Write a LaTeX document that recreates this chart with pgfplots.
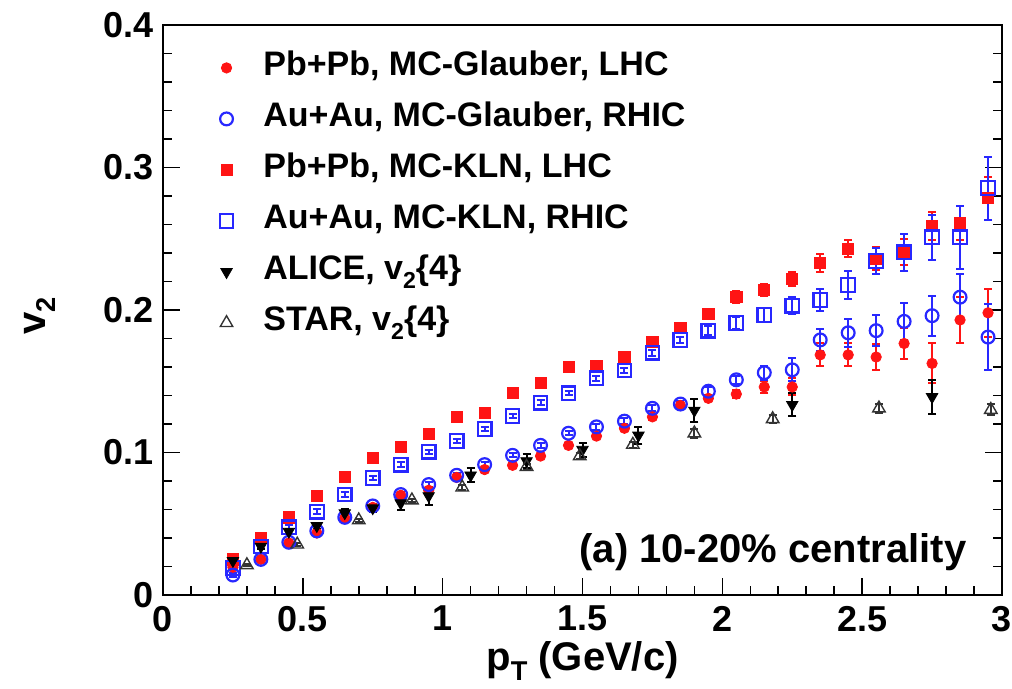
\documentclass[border=0pt]{standalone}
\usepackage{fontspec}
\setmainfont{Liberation Sans}
\usepackage{pgfplots}
\pgfplotsset{compat=1.18}
\definecolor{rred}{RGB}{255,20,20}
\definecolor{rblue}{RGB}{40,40,255}
\newcommand\sub[1]{\raisebox{-0.5ex}{\scalebox{0.68}{#1}}}

\pgfplotstableread{
x e y
0.25 0 0.0195
0.35 0 0.025
0.45 0 0.0365
0.55 0 0.0435
0.65 0 0.054
0.75 0 0.0615
0.85 0 0.070
0.95 0 0.0735
1.05 0 0.0825
1.15 0 0.088
1.25 0 0.091
1.35 0 0.0975
1.45 0 0.105
1.55 0 0.1115
1.65 0 0.117
1.75 0.002 0.125
1.85 0.002 0.133
1.95 0.002 0.138
2.05 0.003 0.141
2.15 0.004 0.146
2.25 0.006 0.146
2.35 0.008 0.1685
2.45 0.008 0.1685
2.55 0.009 0.167
2.65 0.011 0.1765
2.75 0.014 0.1625
2.85 0.016 0.193
2.95 0.017 0.198
}\pbglau

\pgfplotstableread{
x e y
0.25 0.0015 0.014
0.35 0.0015 0.025
0.45 0.0015 0.037
0.55 0.0015 0.045
0.65 0.0015 0.0545
0.75 0.0015 0.0625
0.85 0.0015 0.0705
0.95 0.0015 0.0775
1.05 0.0015 0.084
1.15 0.0015 0.0915
1.25 0.0015 0.098
1.35 0.0015 0.105
1.45 0.0015 0.1135
1.55 0.002 0.118
1.65 0.002 0.122
1.75 0.002 0.131
1.85 0.002 0.134
1.95 0.003 0.143
2.05 0.003 0.151
2.15 0.005 0.156
2.25 0.008 0.158
2.35 0.008 0.179
2.45 0.010 0.184
2.55 0.011 0.1855
2.65 0.013 0.192
2.75 0.014 0.196
2.85 0.016 0.209
2.95 0.023 0.181
}\auglau

\pgfplotstableread{
x e y
0.25 0 0.025
0.35 0 0.040
0.45 0 0.0545
0.55 0 0.0695
0.65 0 0.083
0.75 0 0.096
0.85 0 0.104
0.95 0 0.113
1.05 0 0.125
1.15 0 0.128
1.25 0 0.142
1.35 0 0.149
1.45 0 0.160
1.55 0 0.161
1.65 0 0.167
1.75 0.002 0.1775
1.85 0.002 0.1875
1.95 0.003 0.197
2.05 0.004 0.209
2.15 0.004 0.214
2.25 0.005 0.222
2.35 0.006 0.233
2.45 0.006 0.243
2.55 0.008 0.236
2.65 0.009 0.2405
2.75 0.010 0.259
2.85 0.012 0.261
2.95 0.015 0.2785
}\pbkln

\pgfplotstableread{
x e y
0.25 0.0015 0.019
0.35 0.0015 0.034
0.45 0.0015 0.0475
0.55 0.0015 0.0585
0.65 0.0015 0.0705
0.75 0.0015 0.082
0.85 0.0015 0.0915
0.95 0.0015 0.1005
1.05 0.0015 0.108
1.15 0.0015 0.1165
1.25 0.0015 0.1255
1.35 0.0015 0.135
1.45 0.0015 0.1415
1.55 0.0015 0.152
1.65 0.002 0.1575
1.75 0.002 0.170
1.85 0.002 0.179
1.95 0.003 0.1855
2.05 0.004 0.191
2.15 0.005 0.1965
2.25 0.006 0.203
2.35 0.008 0.207
2.45 0.010 0.2175
2.55 0.009 0.2345
2.65 0.013 0.2405
2.75 0.016 0.251
2.85 0.022 0.251
2.95 0.022 0.2855
}\aukln

\pgfplotstableread{
x e y
0.25 0.002 0.024
0.35 0.002 0.034
0.45 0.002 0.0445
0.55 0.002 0.0485
0.65 0.003 0.0575
0.75 0.003 0.061
0.85 0.005 0.0645
0.95 0.006 0.0695
1.10 0.005 0.084
1.30 0.005 0.094
1.50 0.005 0.102
1.70 0.006 0.112
1.90 0.008 0.1295
2.25 0.008 0.1335
2.75 0.012 0.139
}\alice

\pgfplotstableread{
x e y
0.30 0.001 0.021
0.48 0.001 0.0355
0.70 0.001 0.0525
0.89 0.001 0.0665
1.07 0.002 0.0755
1.30 0.002 0.090
1.49 0.002 0.0975
1.68 0.002 0.1055
1.90 0.003 0.1135
2.18 0.003 0.1235
2.56 0.003 0.131
2.96 0.004 0.130
}\star

\begin{document}
\begin{tikzpicture}
\begin{axis}[
  scale only axis, width=419.5pt, height=285pt,
  xmin=0, xmax=3, ymin=0, ymax=0.4,
  xtick={0,0.5,1,1.5,2,2.5,3}, minor x tick num=4,
  ytick={0,0.1,0.2,0.3,0.4}, minor y tick num=4,
  xtick pos=left, ytick pos=both,
  tick align=inside,
  major tick length=8.5pt, minor tick length=4.5pt,
  every tick/.style={black, line width=0.8pt},
  axis line style={line width=1.3pt},
  /pgf/number format/assume math mode=true,
  ticklabel style={font=\bfseries\fontsize{18}{18}\selectfont},
  xticklabel style={yshift=-2pt},
  yticklabel style={xshift=-1pt},
  label style={font=\bfseries\fontsize{20}{20}\selectfont},
  xlabel={p\sub{T} (GeV/c)},
  ylabel={v\sub{2}},
  xlabel style={at={(axis description cs:0.5,-0.1316)}, anchor=base},
  ylabel style={at={(axis description cs:-0.1466,0.49)}, anchor=center},
  legend style={draw=none, fill=none, at={(axis description cs:0.06,0.964)}, anchor=north west,
    font=\bfseries\fontsize{17}{17}\selectfont, row sep=7.5pt,
    nodes={text height=12pt, text depth=4pt, inner sep=1pt},
    /tikz/every odd column/.append style={column sep=14pt}},
  legend cell align=left,
  legend image code/.code={\draw[mark repeat=2,mark phase=2] plot coordinates {(0pt,0pt) (10pt,0pt) (20pt,0pt)};},
  error bars/y dir=both, error bars/y explicit,
  error bars/error bar style={line width=1pt},
  error bars/error mark options={line width=1pt, mark size=2pt, rotate=90},
]
\addplot[only marks, mark=*, mark size=2.6pt, color=rred, mark options={fill=rred, draw=rred}]
  table[x=x, y=y, y error=e] {\pbglau};
\addlegendentry{Pb+Pb, MC-Glauber, LHC}
\addplot[only marks, mark=o, mark size=3.2pt, color=rblue, mark options={line width=1.1pt}]
  table[x=x, y=y, y error=e] {\auglau};
\addlegendentry{Au+Au, MC-Glauber, RHIC}
\addplot[only marks, mark=square*, mark size=2.8pt, color=rred, mark options={fill=rred, draw=rred}]
  table[x=x, y=y, y error=e] {\pbkln};
\addlegendentry{Pb+Pb, MC-KLN, LHC}
\addplot[only marks, mark=square, mark size=3.4pt, color=rblue, mark options={line width=1.1pt}]
  table[x=x, y=y, y error=e] {\aukln};
\addlegendentry{Au+Au, MC-KLN, RHIC}
\addplot[only marks, mark=triangle*, mark size=3.3pt, color=black, mark options={rotate=180, fill=black}]
  table[x=x, y=y, y error=e] {\alice};
\addlegendentry{ALICE, v\sub{2}\{4\}}
\addplot[only marks, mark=triangle, mark size=3.6pt, color=black!80, mark options={line width=0.7pt}]
  table[x=x, y=y, y error=e] {\star};
\addlegendentry{STAR, v\sub{2}\{4\}}
\node[anchor=base east, font=\bfseries\fontsize{20}{20}\selectfont, inner sep=0pt] at (axis cs:2.874,0.0225) {(a) 10-20\% centrality};
\end{axis}
\pgfresetboundingbox
\path (-81.5pt,-47pt) rectangle (424.5pt,297.5pt);
\end{tikzpicture}
\end{document}
